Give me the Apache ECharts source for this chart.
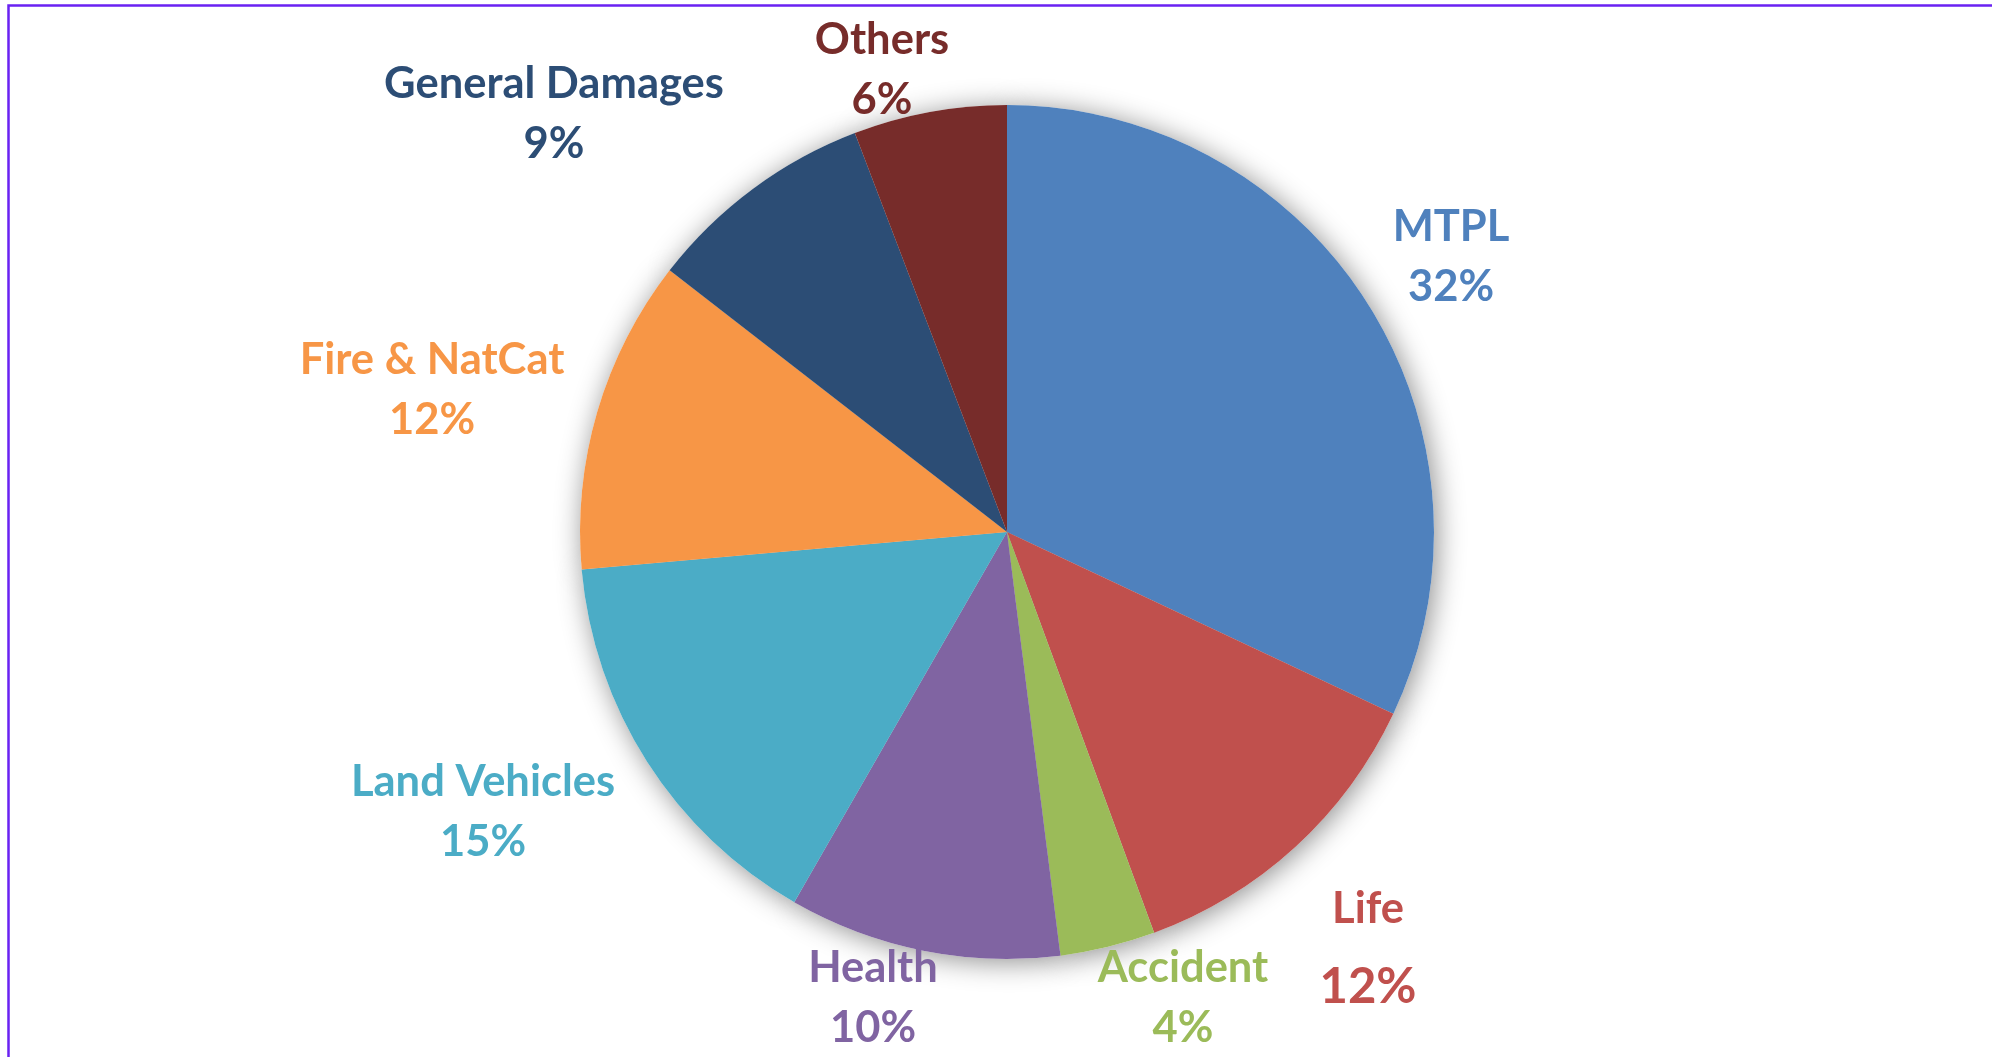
<!DOCTYPE html>
<html><head><meta charset="utf-8">
<script src="https://cdn.jsdelivr.net/npm/echarts@6/dist/echarts.min.js"></script>
<style>html,body{margin:0;padding:0;background:#fff;overflow:hidden}#c{width:1992px;height:1057px}</style>
</head><body><div id="c"></div>
<script>
const categories = ['MTPL', 'Life', 'Accident', 'Health', 'Land Vehicles', 'Fire & NatCat', 'General Damages', 'Others'];
const shares = [32.0, 12.4, 3.6, 10.3, 15.3, 11.9, 8.7, 5.8];
const colors = ['#4F81BD', '#C0504D', '#9BBB59', '#8064A2', '#4BACC6', '#F79646', '#2C4D75', '#772C2A'];
// label block centre, offset from the pie centre (layout only)
const labelOffsets = [[444, -275], [361, 416], [176, 466], [-134, 466], [-524, 280], [-575, -142], [-453, -418], [-125, -462]];

const CX = 1007, CY = 532, R = 427;
const FONT = 'Lato';

const chart = echarts.init(document.getElementById('c'), null, {renderer: 'canvas'});
const pieData = categories.map((c, i) => ({name: c, value: shares[i], itemStyle: {color: colors[i]}}));
const shadowData = categories.map((c, i) => ({name: c, value: shares[i]}));

function richFor(color) {
  return {
    n: {color: color, fontFamily: FONT, fontWeight: 'bold', fontSize: 43.5, lineHeight: 60, align: 'center'},
    v: {color: color, fontFamily: FONT, fontWeight: 'bold', fontSize: 43.5, lineHeight: 60, align: 'center'},
    nl: {color: color, fontFamily: FONT, fontWeight: 'bold', fontSize: 43.5, lineHeight: 79, align: 'center'},
    vl: {color: color, fontFamily: FONT, fontWeight: 'bold', fontSize: 49, lineHeight: 79, align: 'center'}
  };
}
pieData.forEach((d, i) => { d.label = {rich: richFor(colors[i])}; });

chart.setOption({
  animation: false,
  backgroundColor: '#ffffff',
  graphic: [{
    type: 'rect', z: 100, silent: true,
    shape: {x: 8.5, y: 5.5, width: 3000, height: 3000},
    style: {fill: 'none', stroke: '#6A22F2', lineWidth: 2.5}
  }],
  series: [
    {
      type: 'pie', silent: true, z: 1,
      center: [CX, CY], radius: R, startAngle: 90, clockwise: true,
      label: {show: false}, labelLine: {show: false},
      itemStyle: {color: '#ffffff', shadowBlur: 28, shadowOffsetX: 3, shadowOffsetY: 3, shadowColor: 'rgba(0,0,0,0.45)'},
      data: shadowData
    },
    {
      type: 'pie', z: 2,
      center: [CX, CY], radius: R, startAngle: 90, clockwise: true,
      avoidLabelOverlap: false,
      itemStyle: {borderWidth: 0},
      labelLine: {show: false},
      label: {
        show: true, position: 'outside',
        formatter: p => p.name === 'Life'
          ? '{nl|' + p.name + '}\n{vl|' + Math.round(p.percent) + '%}'
          : '{n|' + p.name + '}\n{v|' + Math.round(p.percent) + '%}'
      },
      labelLayout: function (p) {
        const o = labelOffsets[p.dataIndex];
        return {x: CX + o[0], y: CY + o[1], align: 'center', verticalAlign: 'middle'};
      },
      data: pieData
    }
  ]
});
</script></body></html>
